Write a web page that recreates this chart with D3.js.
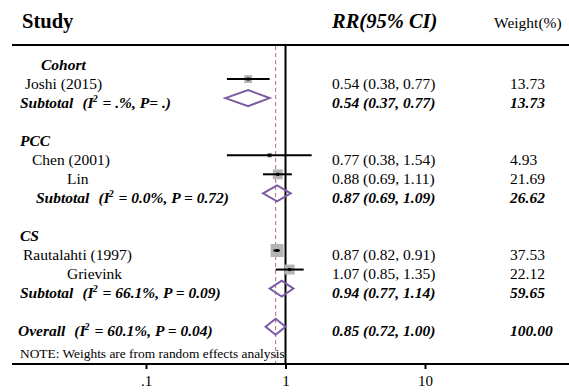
<!DOCTYPE html>
<html>
<head>
<meta charset="utf-8">
<script src="https://cdn.jsdelivr.net/npm/d3@7"></script>
<style>
  body { margin: 0; background: #fff; }
  svg { font-family: "Liberation Serif", "Times New Roman", serif; }
  text { white-space: pre; }
</style>
</head>
<body>
<svg width="569" height="392"></svg>
<script>
// data
const groups = ["Cohort", "PCC", "CS"];
const studyNames = ["Joshi (2015)", "Chen (2001)", "Lin", "Rautalahti (1997)", "Grievink"];
const studyGroup = [0, 1, 1, 2, 2];
const studyRR = [0.54, 0.77, 0.88, 0.87, 1.07];
const studyLo = [0.38, 0.38, 0.69, 0.82, 0.85];
const studyHi = [0.77, 1.54, 1.11, 0.91, 1.35];
const studyWeight = [13.73, 4.93, 21.69, 37.53, 22.12];
const subtotalRR = [0.54, 0.87, 0.94];
const subtotalLo = [0.37, 0.69, 0.77];
const subtotalHi = [0.77, 1.09, 1.14];
const subtotalWeight = [13.73, 26.62, 59.65];
const subtotalStats = [" = .%, P= .)", " = 0.0%, P = 0.72)", " = 66.1%, P = 0.09)"];
const overallRR = 0.85, overallLo = 0.72, overallHi = 1.00, overallWeight = 100.00;
const overallStats = " = 60.1%, P = 0.04)";
const tickValues = [0.1, 1, 10];
const tickLabels = [".1", "1", "10"];

// layout (label indents as in the original)
const groupIndent = [41, 20, 20];
const studyIndent = [25, 32, 67, 23, 67];
const subtotalIndent = [20, 36, 20];

let svg = d3.select("svg");
let rowStep = 19.05, row0 = 60, topY = 45, axisY = 364;
let fs = 15.5;

let x = d3.scaleLog().domain([0.1, 10]).range([146, 425]);
let boxSize = d3.scaleSqrt().domain([0, 37.53]).range([0, 13]);
let rowY = i => row0 + i * rowStep;
let fmt = d3.format(".2f");
let ci = (r, l, h) => fmt(r) + " (" + fmt(l) + ", " + fmt(h) + ")";

// build rows
let rows = [];
let r = 0;
groups.forEach(function (g, gi) {
    rows.push({type: "group", row: r++, label: g, gi: gi});
    studyNames.forEach(function (s, si) {
        if (studyGroup[si] === gi) {
            rows.push({type: "study", row: r++, label: s, si: si,
                rr: studyRR[si], lo: studyLo[si], hi: studyHi[si], w: studyWeight[si]});
        }
    });
    rows.push({type: "subtotal", row: r++, gi: gi, stats: subtotalStats[gi],
        rr: subtotalRR[gi], lo: subtotalLo[gi], hi: subtotalHi[gi], w: subtotalWeight[gi]});
    r++;
});
rows.push({type: "overall", row: r, stats: overallStats,
    rr: overallRR, lo: overallLo, hi: overallHi, w: overallWeight});

// headers
svg.append("text").attr("x", 22).attr("y", 28)
    .attr("font-size", 20.5).attr("font-weight", "bold").text("Study");
svg.append("text").attr("x", 332).attr("y", 28)
    .attr("font-size", 20.5).attr("font-weight", "bold").attr("font-style", "italic").text("RR(95% CI)");
svg.append("text").attr("x", 494).attr("y", 28)
    .attr("font-size", fs).text("Weight(%)");

svg.append("line").attr("x1", 12).attr("x2", 569).attr("y1", topY).attr("y2", topY)
    .attr("stroke", "#000").attr("stroke-width", 2);

// reference lines
svg.append("line").attr("x1", x(overallRR)).attr("x2", x(overallRR))
    .attr("y1", topY + 1).attr("y2", axisY)
    .attr("stroke", "#b86a78").attr("stroke-width", 1).attr("stroke-dasharray", "4,3");
svg.append("line").attr("x1", x(1)).attr("x2", x(1)).attr("y1", topY).attr("y2", axisY)
    .attr("stroke", "#000").attr("stroke-width", 2);

// text rows
rows.forEach(function (d) {
    let yb = rowY(d.row) + 9.5;
    if (d.type === "group") {
        svg.append("text").attr("x", groupIndent[d.gi]).attr("y", yb)
            .attr("font-size", fs).attr("font-weight", "bold").attr("font-style", "italic").text(d.label);
        return;
    }
    let bi = d.type !== "study";
    let lab = svg.append("text").attr("y", yb).attr("font-size", fs);
    if (bi) lab.attr("font-weight", "bold").attr("font-style", "italic");
    if (d.type === "study") {
        lab.attr("x", studyIndent[d.si]).text(d.label);
    } else {
        lab.attr("x", d.type === "overall" ? 18 : subtotalIndent[d.gi]);
        lab.append("tspan").text(d.type === "overall" ? "Overall" : "Subtotal");
        lab.append("tspan").attr("dx", 9).text("(I");
        lab.append("tspan").attr("dy", -6).attr("dx", -1).attr("font-size", 10).text("2");
        lab.append("tspan").attr("dy", 6).attr("dx", 1).text(d.stats);
    }
    let v = svg.append("text").attr("x", 332).attr("y", yb).attr("font-size", fs)
        .text(ci(d.rr, d.lo, d.hi));
    let w = svg.append("text").attr("x", 510).attr("y", yb).attr("font-size", fs)
        .text(fmt(d.w));
    if (bi) {
        v.attr("font-weight", "bold").attr("font-style", "italic");
        w.attr("font-weight", "bold").attr("font-style", "italic");
    }
});

// study marks
let studies = rows.filter(d => d.type === "study");
svg.selectAll(".box").data(studies).enter().append("rect")
    .attr("class", "box")
    .attr("x", d => x(d.rr) - boxSize(d.w) / 2)
    .attr("y", d => rowY(d.row) - boxSize(d.w) / 2)
    .attr("width", d => boxSize(d.w))
    .attr("height", d => boxSize(d.w))
    .attr("fill", "#b4b4b4");
svg.selectAll(".ci").data(studies).enter().append("line")
    .attr("class", "ci")
    .attr("x1", d => x(d.lo)).attr("x2", d => x(d.hi))
    .attr("y1", d => rowY(d.row)).attr("y2", d => rowY(d.row))
    .attr("stroke", "#000").attr("stroke-width", 2);
svg.selectAll(".pt").data(studies).enter().append("rect")
    .attr("class", "pt")
    .attr("x", d => x(d.rr) - 1.5).attr("y", d => rowY(d.row) - 1.5)
    .attr("width", 3).attr("height", 3).attr("fill", "#000");

// pooled diamonds
let pooled = rows.filter(d => d.type === "subtotal" || d.type === "overall");
svg.selectAll(".dia").data(pooled).enter().append("path")
    .attr("class", "dia")
    .attr("d", function (d) {
        let y = rowY(d.row);
        return "M" + x(d.lo) + "," + y + "L" + x(d.rr) + "," + (y - 8) +
            "L" + x(d.hi) + "," + y + "L" + x(d.rr) + "," + (y + 8) + "Z";
    })
    .attr("fill", "none").attr("stroke", "#7b5aa6").attr("stroke-width", 2);

// note
svg.append("text").attr("x", 20).attr("y", 358).attr("font-size", 13.4)
    .text("NOTE: Weights are from random effects analysis");

// axis
svg.append("line").attr("x1", 12).attr("x2", 569).attr("y1", axisY).attr("y2", axisY)
    .attr("stroke", "#000").attr("stroke-width", 2);
let ax = svg.append("g").attr("transform", "translate(0," + axisY + ")")
    .call(d3.axisBottom(x).tickValues(tickValues).tickSize(5)
        .tickFormat((d, i) => tickLabels[i]));
ax.select(".domain").remove();
ax.selectAll(".tick line").attr("stroke-width", 2);
ax.selectAll(".tick text").attr("font-family", "Liberation Serif")
    .attr("font-size", 15).attr("y", 11).attr("fill", "#000");
</script>
</body>
</html>
